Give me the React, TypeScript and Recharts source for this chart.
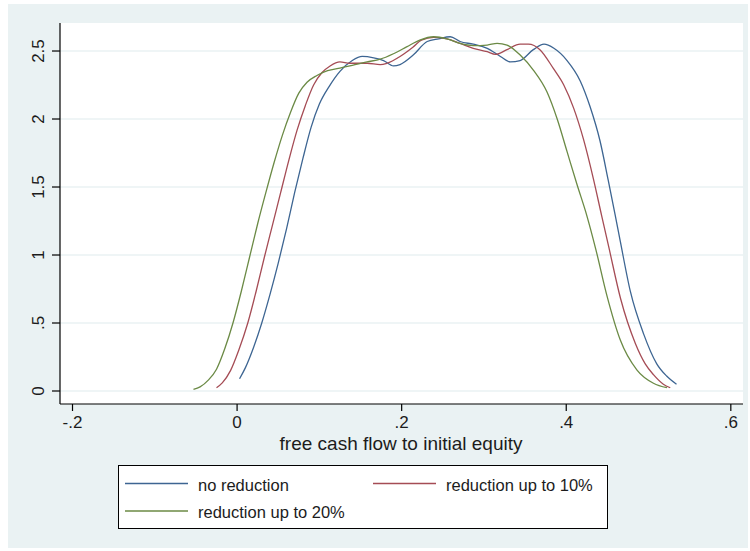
import React from "react";
import { LineChart, Line, XAxis, YAxis, CartesianGrid } from "recharts";

// ---------- data (x = free cash flow to initial equity, y = density) ----------
const noReduction: [number, number][] = [
  [0.003, 0.09], [0.010, 0.17], [0.020, 0.32], [0.030, 0.50], [0.040, 0.71],
  [0.050, 0.94], [0.060, 1.19], [0.070, 1.46], [0.080, 1.71], [0.090, 1.94],
  [0.100, 2.11], [0.112, 2.24], [0.125, 2.35], [0.140, 2.43], [0.152, 2.46],
  [0.166, 2.45], [0.178, 2.43], [0.190, 2.39], [0.198, 2.40], [0.214, 2.47],
  [0.231, 2.57], [0.245, 2.59], [0.259, 2.605], [0.271, 2.57], [0.287, 2.55],
  [0.304, 2.52], [0.320, 2.46], [0.332, 2.42], [0.344, 2.43], [0.360, 2.51],
  [0.373, 2.55], [0.385, 2.52], [0.401, 2.43], [0.417, 2.28], [0.429, 2.09],
  [0.441, 1.84], [0.451, 1.55], [0.4596, 1.29], [0.4657, 1.10], [0.478, 0.73],
  [0.494, 0.42], [0.510, 0.20], [0.522, 0.11], [0.534, 0.05],
];

const reduction10: [number, number][] = [
  [-0.025, 0.024], [-0.018, 0.06], [-0.008, 0.15], [0.002, 0.30], [0.013, 0.50],
  [0.023, 0.73], [0.033, 0.98], [0.043, 1.22], [0.053, 1.46], [0.063, 1.70],
  [0.073, 1.92], [0.083, 2.10], [0.093, 2.25], [0.103, 2.34], [0.113, 2.39],
  [0.125, 2.42], [0.137, 2.41], [0.158, 2.41], [0.174, 2.40], [0.182, 2.41],
  [0.198, 2.46], [0.214, 2.53], [0.224, 2.58], [0.239, 2.60], [0.255, 2.59],
  [0.271, 2.556], [0.287, 2.52], [0.304, 2.495], [0.314, 2.475], [0.328, 2.51],
  [0.344, 2.55], [0.354, 2.55], [0.368, 2.51], [0.3845, 2.37], [0.397, 2.25],
  [0.409, 2.08], [0.421, 1.85], [0.433, 1.56], [0.443, 1.29], [0.452, 1.05],
  [0.466, 0.68], [0.484, 0.35], [0.496, 0.20], [0.506, 0.12], [0.518, 0.05],
  [0.5264, 0.024],
];

const reduction20: [number, number][] = [
  [-0.053, 0.012], [-0.045, 0.03], [-0.035, 0.08], [-0.025, 0.16], [-0.015, 0.31],
  [-0.005, 0.50], [0.005, 0.73], [0.015, 0.98], [0.025, 1.23], [0.035, 1.46],
  [0.045, 1.68], [0.055, 1.88], [0.065, 2.05], [0.075, 2.19], [0.085, 2.27],
  [0.097, 2.32], [0.110, 2.355], [0.125, 2.375], [0.140, 2.395], [0.158, 2.42],
  [0.174, 2.44], [0.190, 2.48], [0.206, 2.53], [0.222, 2.58], [0.239, 2.605],
  [0.255, 2.59], [0.271, 2.556], [0.287, 2.54], [0.304, 2.544], [0.316, 2.556],
  [0.328, 2.544], [0.344, 2.47], [0.360, 2.36], [0.3765, 2.20], [0.389, 2.00],
  [0.401, 1.76], [0.413, 1.52], [0.425, 1.29], [0.436, 1.04], [0.4495, 0.70],
  [0.4657, 0.375], [0.486, 0.154], [0.506, 0.057], [0.5224, 0.024],
];

const seriesNames = ["no reduction", "reduction up to 10%", "reduction up to 20%"];
const seriesColors = ["#3d6592", "#a54c55", "#6b8a45"];

const xTicks = [-0.2, 0, 0.2, 0.4, 0.6];
const xTickLabels = ["-.2", "0", ".2", ".4", ".6"];
const yTicks = [0, 0.5, 1, 1.5, 2, 2.5];
const yTickLabels = ["0", ".5", "1", "1.5", "2", "2.5"];
const xTitle = "free cash flow to initial equity";

// ---------- layout ----------
const W = 750;
const H = 551;
const FONT = "'Liberation Sans', Arial, sans-serif";
const BG = "#eaf2f3";
const TXT = "#1c1c1c";

const toRows = (pts: [number, number][]) => pts.map(([x, y]) => ({ x, y }));
const allSeries = [noReduction, reduction10, reduction20].map(toRows);

const XTick = (props: any) => {
  const { x, y, payload } = props;
  const i = xTicks.indexOf(payload.value);
  return (
    <text x={x} y={y + 15} textAnchor="middle" fontSize={17} fontFamily={FONT} fill={TXT}>
      {i >= 0 ? xTickLabels[i] : payload.value}
    </text>
  );
};

const YTick = (props: any) => {
  const { x, y, payload } = props;
  const i = yTicks.indexOf(payload.value);
  const bx = x - 6;
  return (
    <text
      x={bx}
      y={y}
      transform={`rotate(-90 ${bx} ${y})`}
      textAnchor="middle"
      fontSize={17}
      fontFamily={FONT}
      fill={TXT}
    >
      {i >= 0 ? yTickLabels[i] : payload.value}
    </text>
  );
};

export default function App() {
  return (
    <div style={{ position: "absolute", left: 0, top: 0, width: W, height: H, background: "#fff" }}>
      <div style={{ position: "absolute", left: 8, top: 4, width: 740, height: 544, background: BG }} />
      <div style={{ position: "absolute", left: 0, top: 0 }}>
        <LineChart width={W} height={H} margin={{ top: 23, right: 7, left: 10, bottom: 107 }}>
          <CartesianGrid
            vertical={false}
            horizontal
            fill="#ffffff"
            stroke={BG}
            strokeWidth={1.5}
            horizontalValues={yTicks}
          />
          <XAxis
            type="number"
            dataKey="x"
            domain={[-0.2152, 0.6148]}
            ticks={xTicks}
            allowDataOverflow
            height={40}
            tickSize={7}
            tickMargin={2}
            tick={<XTick />}
            axisLine={{ stroke: "#000", strokeWidth: 1.2 }}
            tickLine={{ stroke: "#000", strokeWidth: 1.2 }}
          />
          <YAxis
            type="number"
            dataKey="y"
            domain={[-0.0956, 2.706]}
            ticks={yTicks}
            allowDataOverflow
            width={50}
            tickSize={8}
            tickMargin={2}
            tick={<YTick />}
            axisLine={{ stroke: "#000", strokeWidth: 1.2 }}
            tickLine={{ stroke: "#000", strokeWidth: 1.2 }}
          />
          {allSeries.map((rows, i) => (
            <Line
              key={seriesNames[i]}
              data={rows}
              dataKey="y"
              name={seriesNames[i]}
              type="monotone"
              stroke={seriesColors[i]}
              strokeWidth={1.3}
              dot={false}
              activeDot={false}
              isAnimationActive={false}
            />
          ))}
        </LineChart>
      </div>
      <svg
        width={W}
        height={H}
        style={{ position: "absolute", left: 0, top: 0, pointerEvents: "none" }}
      >
        <text x={401} y={450} textAnchor="middle" fontSize={19} fontFamily={FONT} fill={TXT}>
          {xTitle}
        </text>
        <rect x={118.5} y={465.5} width={489} height={63} fill="#fff" stroke="#000" strokeWidth={1} />
        {seriesNames.map((name, i) => {
          const col = i === 1 ? 1 : 0;
          const row = i === 2 ? 1 : 0;
          const lx = col === 0 ? 125 : 373;
          const ly = row === 0 ? 483.5 : 511;
          const ty = row === 0 ? 491 : 518;
          return (
            <g key={name}>
              <line x1={lx} x2={lx + 63} y1={ly} y2={ly} stroke={seriesColors[i]} strokeWidth={1.3} />
              <text x={lx + 73} y={ty} fontSize={16.5} fontFamily={FONT} fill={TXT}>
                {name}
              </text>
            </g>
          );
        })}
      </svg>
    </div>
  );
}
